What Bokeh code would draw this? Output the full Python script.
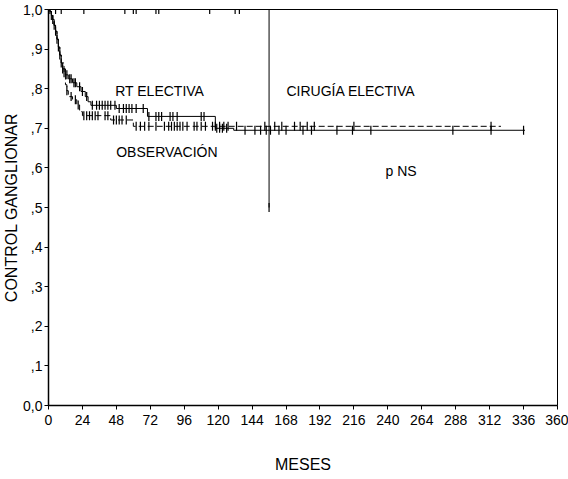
import numpy as np
from bokeh.plotting import figure
from bokeh.models import FixedTicker, Label
from bokeh.embed import file_html
from bokeh.resources import INLINE

# ---- data ----
x_ticks = [0, 24, 48, 72, 96, 120, 144, 168, 192, 216, 240, 264, 288, 312, 336, 360]
y_ticks = [0.0, 0.1, 0.2, 0.3, 0.4, 0.5, 0.6, 0.7, 0.8, 0.9, 1.0]
y_tick_labels = ["0,0", ",1", ",2", ",3", ",4", ",5", ",6", ",7", ",8", ",9", "1,0"]

# RT ELECTIVA (solid)
rt_times = [1, 2, 3, 4, 5, 6, 7, 8, 9, 10, 12, 14, 17, 20, 23, 26, 28, 30, 48, 70, 118, 131]
rt_surv = [0.995, 0.985, 0.975, 0.96, 0.945, 0.925, 0.905, 0.885, 0.865, 0.85, 0.835, 0.825,
           0.815, 0.805, 0.793, 0.78, 0.767, 0.758, 0.750, 0.730, 0.700, 0.695]
rt_end = 337
rt_censor = [3, 5, 7, 8, 10, 13, 15, 16, 18, 19, 22, 24, 27, 31, 34, 36, 38, 40, 42, 44, 47,
             50, 53, 55, 57, 59, 62, 67, 71, 76, 78, 80, 86, 88, 91, 108, 110, 119, 121, 123,
             126, 139, 146, 150, 154, 157, 163, 168, 180, 186, 204, 215, 228, 286, 313, 336]

# OBSERVACIÓN (dashed)
obs_times = [1, 2, 3, 4, 5, 6, 7, 8, 9, 11, 12, 13, 14, 17, 20, 22, 24, 44, 60]
obs_surv = [0.995, 0.985, 0.975, 0.96, 0.945, 0.925, 0.905, 0.885, 0.865, 0.84, 0.81, 0.795,
            0.78, 0.772, 0.759, 0.742, 0.732, 0.721, 0.705]
obs_end = 320
obs_censor = [2, 4, 6, 9, 11, 13, 16, 19, 21, 25, 27, 29, 31, 33, 35, 40, 42, 46, 48, 50, 52,
              55, 62, 65, 68, 71, 76, 82, 85, 87, 89, 91, 93, 95, 98, 103, 105, 108, 111, 116,
              118, 121, 124, 127, 133, 153, 160, 165, 174, 178, 183, 188, 216, 313]

# CIRUGÍA ELECTIVA
cir_times = [156]
cir_surv = [0.5]
cir_end = 156
cir_censor = [1, 5, 9, 25, 54, 60, 62, 76, 78, 114, 132, 135, 156]


def step_xy(times, surv, end):
    xs = [0] + list(times) + [end]
    ys = [1.0] + list(surv) + [surv[-1]]
    return xs, ys


def surv_at(t, times, surv):
    v = 1.0
    for ti, si in zip(times, surv):
        if ti <= t:
            v = si
    return v


FONT = "Liberation Sans"

p = figure(width=568, height=479, x_range=(0, 360), y_range=(0, 1.0),
           min_border_left=48, min_border_right=11, min_border_top=9, min_border_bottom=74,
           output_backend="svg", toolbar_location=None)
p.background_fill_color = "white"
p.border_fill_color = "white"
p.outline_line_color = "black"
p.outline_line_width = 1
p.xgrid.visible = False
p.ygrid.visible = False

# axes
p.xaxis.ticker = FixedTicker(ticks=x_ticks)
p.yaxis.ticker = FixedTicker(ticks=y_ticks)
p.yaxis.major_label_overrides = {v: s for v, s in zip(y_ticks, y_tick_labels)}
for ax in (p.xaxis[0], p.yaxis[0]):
    ax.axis_line_color = "black"
    ax.axis_line_width = 1.5
    ax.major_tick_line_color = "black"
    ax.major_tick_in = 0
    ax.major_tick_out = 4
    ax.minor_tick_line_color = None
    ax.major_label_text_font = FONT
    ax.major_label_text_font_size = "14px"
    ax.major_label_text_color = "black"
    ax.axis_label_text_font = FONT
    ax.axis_label_text_font_size = "16px"
    ax.axis_label_text_font_style = "normal"
    ax.axis_label_text_color = "black"
p.xaxis.major_label_standoff = 5
p.yaxis.major_label_standoff = 2
p.xaxis.axis_label = "MESES"
p.xaxis.axis_label_standoff = 28
p.yaxis.axis_label = "CONTROL GANGLIONAR"
p.yaxis.axis_label_standoff = 0

# curves
xs, ys = step_xy(rt_times, rt_surv, rt_end)
p.step(xs, ys, mode="after", line_color="black", line_width=1)
xs, ys = step_xy(obs_times, obs_surv, obs_end)
p.step(xs, ys, mode="after", line_color="black", line_width=1, line_dash="6 3")
xs, ys = step_xy(cir_times, cir_surv, cir_end)
p.step(xs, ys, mode="after", line_color="black", line_width=1)

# censor marks
for cens, tms, sv in ((rt_censor, rt_times, rt_surv),
                      (obs_censor, obs_times, obs_surv),
                      (cir_censor, cir_times, cir_surv)):
    cy = [surv_at(t, tms, sv) for t in cens]
    p.scatter(cens, cy, marker="dash", angle=np.pi / 2, size=9,
              line_color="black", line_width=1.2)

# annotations
for tx, ty, txt in ((47.2, 0.7935, "RT ELECTIVA"),
                    (168.3, 0.7935, "CIRUGÍA ELECTIVA"),
                    (47.9, 0.639, "OBSERVACIÓN"),
                    (238.4, 0.591, "p NS")):
    p.add_layout(Label(x=tx, y=ty, text=txt, text_font=FONT, text_font_size="14px",
                       text_baseline="middle", text_align="left", text_color="black"))

open("out.html", "w").write(file_html(p, INLINE))
